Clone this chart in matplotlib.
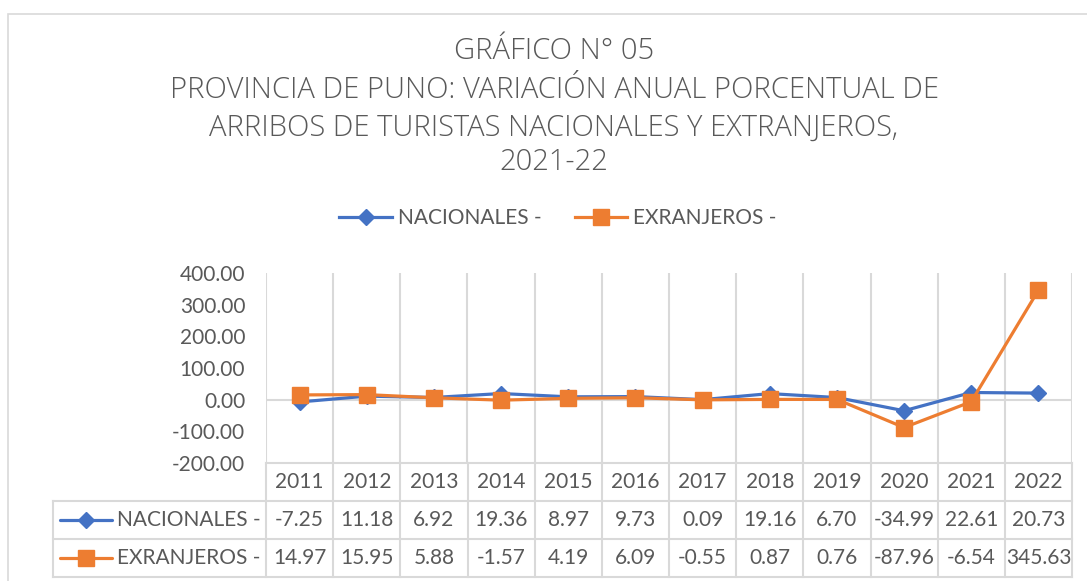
import matplotlib
matplotlib.use("Agg")
import matplotlib.pyplot as plt
from matplotlib.lines import Line2D
from matplotlib.patches import Rectangle

# ---- data ----
years = ["2011", "2012", "2013", "2014", "2015", "2016", "2017", "2018", "2019", "2020", "2021", "2022"]
nacionales = [-7.25, 11.18, 6.92, 19.36, 8.97, 9.73, 0.09, 19.16, 6.70, -34.99, 22.61, 20.73]
extranjeros = [14.97, 15.95, 5.88, -1.57, 4.19, 6.09, -0.55, 0.87, 0.76, -87.96, -6.54, 345.63]
series_names = ["NACIONALES -", "EXRANJEROS -"]
yticks = [400, 300, 200, 100, 0, -100, -200]
title_lines = ["GRÁFICO N° 05",
               "PROVINCIA DE PUNO: VARIACIÓN ANUAL PORCENTUAL DE",
               "ARRIBOS DE TURISTAS NACIONALES Y EXTRANJEROS,",
               "2021-22"]

BLUE = "#4472C4"
ORANGE = "#ED7D31"
GRID = "#D9D9D9"
TXT = "#595959"
FONT = "Lato"
TFONT = "Open Sans"
FS = 15

W, H = 1087, 581
fig = plt.figure(figsize=(W / 100, H / 100), dpi=100)
fig.patch.set_facecolor("white")

def fx(px):
    return px / W

def fy(py):
    return 1 - py / H

# outer chart border
fig.patches.append(Rectangle((fx(8), -0.1), 1.2, fy(14) + 0.1, transform=fig.transFigure,
                             fill=False, edgecolor=GRID, lw=1.2))

# ---- main axes ----
L, R, T, B = 266, 1072, 273, 463
ax = fig.add_axes([fx(L), fy(B), fx(R - L), (B - T) / H])
n = len(years)
x = list(range(n))
ax.set_xlim(-0.5, n - 0.5)
ax.set_ylim(-200, 400)
for s in ax.spines.values():
    s.set_visible(False)
for k in range(n + 1):
    ax.axvline(k - 0.5, color=GRID, lw=1.5, zorder=0)
ax.axhline(0, color=GRID, lw=1.5, zorder=0)
ax.set_xticks([])
ax.set_yticks(yticks)
ax.set_yticklabels([f"{v:.2f}" for v in yticks], fontsize=FS, color=TXT, family=FONT)
ax.tick_params(axis="y", length=0, pad=15)

ax.plot(x, nacionales, color=BLUE, lw=2.3, marker="D", ms=8, zorder=3, clip_on=False)
ax.plot(x, extranjeros, color=ORANGE, lw=2.3, marker="s", ms=12, zorder=4, clip_on=False)

# ---- data table axes ----
TL, TB = 53, 577
tax = fig.add_axes([fx(TL), fy(TB), fx(R - TL), (TB - B) / H])
xl = -0.5 - (L - TL) / ((R - L) / n)
tax.set_xlim(xl, n - 0.5)
tax.set_ylim(0, 3)
tax.axis("off")
kw = dict(color=GRID, lw=1.5, clip_on=False)
for k in range(n + 1):
    tax.plot([k - 0.5, k - 0.5], [0, 3], **kw)
tax.plot([xl, xl], [0, 2], **kw)
for yy in (0, 1, 2):
    tax.plot([xl, n - 0.5], [yy, yy], **kw)
tax.plot([-0.5, n - 0.5], [3, 3], **kw)

for i, yr in enumerate(years):
    tax.text(i, 2.5, yr, ha="center", va="center", fontsize=FS, color=TXT, family=FONT)
for row, (vals, col, mk, ms, name) in enumerate([
        (nacionales, BLUE, "D", 8, series_names[0]),
        (extranjeros, ORANGE, "s", 12, series_names[1])]):
    yc = 1.5 - row
    for i, v in enumerate(vals):
        tax.text(i, yc, f"{v:.2f}", ha="center", va="center", fontsize=FS, color=TXT, family=FONT)
    kx0 = xl + 7 / 67.17
    kx1 = xl + 59 / 67.17
    tax.plot([kx0, kx1], [yc, yc], color=col, lw=2.3, solid_capstyle="round", clip_on=False)
    tax.plot([(kx0 + kx1) / 2], [yc], color=col, marker=mk, ms=ms, clip_on=False)
    tax.text(xl + 64 / 67.17, yc, name, ha="left", va="center", fontsize=FS, color=TXT, family=FONT)

# ---- legend ----
handles = [Line2D([], [], color=BLUE, lw=2.3, marker="D", ms=8),
           Line2D([], [], color=ORANGE, lw=2.3, marker="s", ms=12)]
leg = fig.legend(handles, series_names, loc="center", bbox_to_anchor=(fx(558), fy(218)),
                 ncol=2, frameon=False, prop={"family": FONT, "size": FS},
                 handlelength=2.5, handletextpad=0.3, columnspacing=1.6, labelcolor=TXT)

# ---- title ----
ys = [51, 90, 128, 162]
for line, yy in zip(title_lines, ys):
    fig.text(fx(554), fy(yy), line, ha="center", va="center", fontsize=21,
             color=TXT, family=TFONT, fontweight="light")

fig.savefig("out.png", dpi=100)
